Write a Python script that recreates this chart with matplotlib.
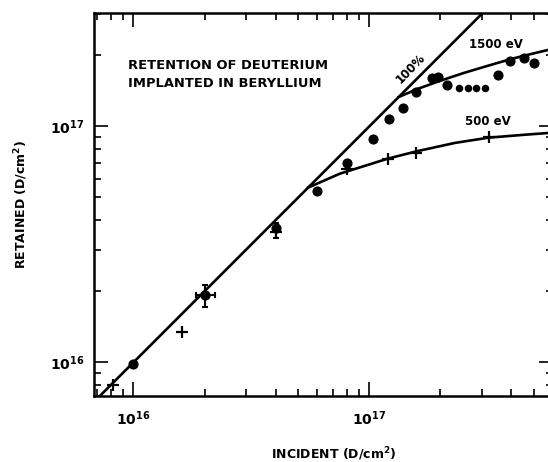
import numpy as np
import matplotlib
matplotlib.use("Agg")
import matplotlib.pyplot as plt
from matplotlib.ticker import LogLocator, NullFormatter, FuncFormatter

plt.rcParams["font.family"] = ["DejaVu Sans"]
plt.rcParams["font.weight"] = "bold"
plt.rcParams["mathtext.fontset"] = "dejavusans"
plt.rcParams["mathtext.default"] = "bf"

# 100% retention line (retained = incident)
full_incident = [6.8e15, 3.2e17]
full_retained = [6.8e15, 3.2e17]

# 1500 eV data points
inc_1500 = [1.0e16, 2.0e16, 4.0e16, 6.0e16, 8.0e16, 1.04e17, 1.21e17, 1.39e17,
            1.58e17, 1.85e17, 1.95e17, 2.13e17, 3.5e17, 3.96e17, 4.5e17, 5.0e17]
ret_1500 = [9.8e15, 1.93e16, 3.7e16, 5.3e16, 7.0e16, 8.8e16, 1.07e17, 1.19e17,
            1.40e17, 1.60e17, 1.61e17, 1.50e17, 1.65e17, 1.89e17, 1.94e17, 1.86e17]
inc_1500_small = [2.40e17, 2.61e17, 2.83e17, 3.08e17]
ret_1500_small = [1.45e17, 1.45e17, 1.45e17, 1.45e17]

# 1500 eV fitted curve
fit_inc_1500 = [1.33e17, 1.6e17, 2.0e17, 2.5e17, 3.15e17, 4.0e17, 5.0e17, 6.0e17]
fit_ret_1500 = [1.33e17, 1.44e17, 1.56e17, 1.68e17, 1.80e17, 1.93e17, 2.04e17, 2.13e17]

# 500 eV data points
inc_500 = [8.2e15, 1.6e16, 2.0e16, 4.0e16, 8.0e16, 1.2e17, 1.58e17, 3.2e17]
ret_500 = [8.0e15, 1.34e16, 1.93e16, 3.55e16, 6.6e16, 7.3e16, 7.7e16, 9.0e16]

# 500 eV fitted curve
fit_inc_500 = [5.5e16, 7.5e16, 1.2e17, 1.6e17, 2.3e17, 3.2e17, 4.5e17, 6.0e17]
fit_ret_500 = [5.5e16, 6.3e16, 7.3e16, 7.85e16, 8.5e16, 8.95e16, 9.2e16, 9.4e16]

# error bars (center, low, high)
err_inc = [2.0e16, 4.0e16]
err_ret = [1.93e16, 3.6e16]
err_inc_lo = [1.84e16, 4.0e16]
err_inc_hi = [2.22e16, 4.0e16]
err_ret_lo = [1.71e16, 3.37e16]
err_ret_hi = [2.13e16, 3.88e16]

fig = plt.figure(figsize=(5.48, 4.62), dpi=100)
ax = fig.add_axes([0.1715, 0.1429, 0.8376, 0.8297])
ax.set_xscale("log")
ax.set_yscale("log")
ax.set_xlim(6.8e15, 6.0e17)
ax.set_ylim(7.2e15, 3.03e17)

lw = 1.9
ax.plot(full_incident, full_retained, color="black", lw=lw)
ax.plot(fit_inc_1500, fit_ret_1500, color="black", lw=lw)
ax.plot(fit_inc_500, fit_ret_500, color="black", lw=lw)

ax.plot(inc_1500, ret_1500, "o", color="black", ms=6.3, ls="none")
ax.plot(inc_1500_small, ret_1500_small, "o", color="black", ms=4.4, ls="none")
ax.plot(inc_500, ret_500, "+", color="black", ms=8, mew=1.6, ls="none")

xe = [np.array(err_inc) - np.array(err_inc_lo), np.array(err_inc_hi) - np.array(err_inc)]
ye = [np.array(err_ret) - np.array(err_ret_lo), np.array(err_ret_hi) - np.array(err_ret)]
ax.errorbar(err_inc, err_ret, xerr=xe, yerr=ye, fmt="none", ecolor="black",
            elinewidth=1.5, capsize=2.5, capthick=1.5)

# labels inside the plot
ax.text(9.5e15, 1.66e17, "RETENTION OF DEUTERIUM\nIMPLANTED IN BERYLLIUM",
        fontsize=9.4, fontweight="bold", va="center", ha="left", linespacing=1.55)
ax.text(1.49e17, 1.76e17, "100%", fontsize=8.5, fontweight="bold",
        rotation=46, ha="center", va="center")
ax.text(3.44e17, 2.22e17, "1500 eV", fontsize=8.5, fontweight="bold",
        ha="center", va="center")
ax.text(3.17e17, 1.05e17, "500 eV", fontsize=8.5, fontweight="bold",
        ha="center", va="center")

# axes styling
for s in ax.spines.values():
    s.set_linewidth(1.8)
ax.xaxis.set_major_locator(LogLocator(base=10))
ax.yaxis.set_major_locator(LogLocator(base=10))
ax.xaxis.set_minor_locator(LogLocator(base=10, subs=np.arange(2, 10)))
ax.yaxis.set_minor_locator(LogLocator(base=10, subs=np.arange(2, 10)))
fmt = FuncFormatter(lambda v, p: r"$10^{%d}$" % round(np.log10(v)))
ax.xaxis.set_major_formatter(fmt)
ax.yaxis.set_major_formatter(fmt)
ax.xaxis.set_minor_formatter(NullFormatter())
ax.yaxis.set_minor_formatter(NullFormatter())
ax.tick_params(which="both", direction="in", top=True, right=True, width=1.2,
               labelsize=10)
ax.tick_params(which="major", length=10)
ax.tick_params(which="minor", length=5)
ax.tick_params(axis="x", pad=10)
ax.tick_params(axis="y", pad=7)

ax.set_xlabel("INCIDENT (D/cm$^2$)", fontsize=9, fontweight="bold")
ax.xaxis.set_label_coords(0.522, -0.128)
ax.set_ylabel("RETAINED (D/cm$^2$)", fontsize=9, fontweight="bold")
ax.yaxis.set_label_coords(-0.14, 0.5)

fig.savefig("out.png", dpi=100)
